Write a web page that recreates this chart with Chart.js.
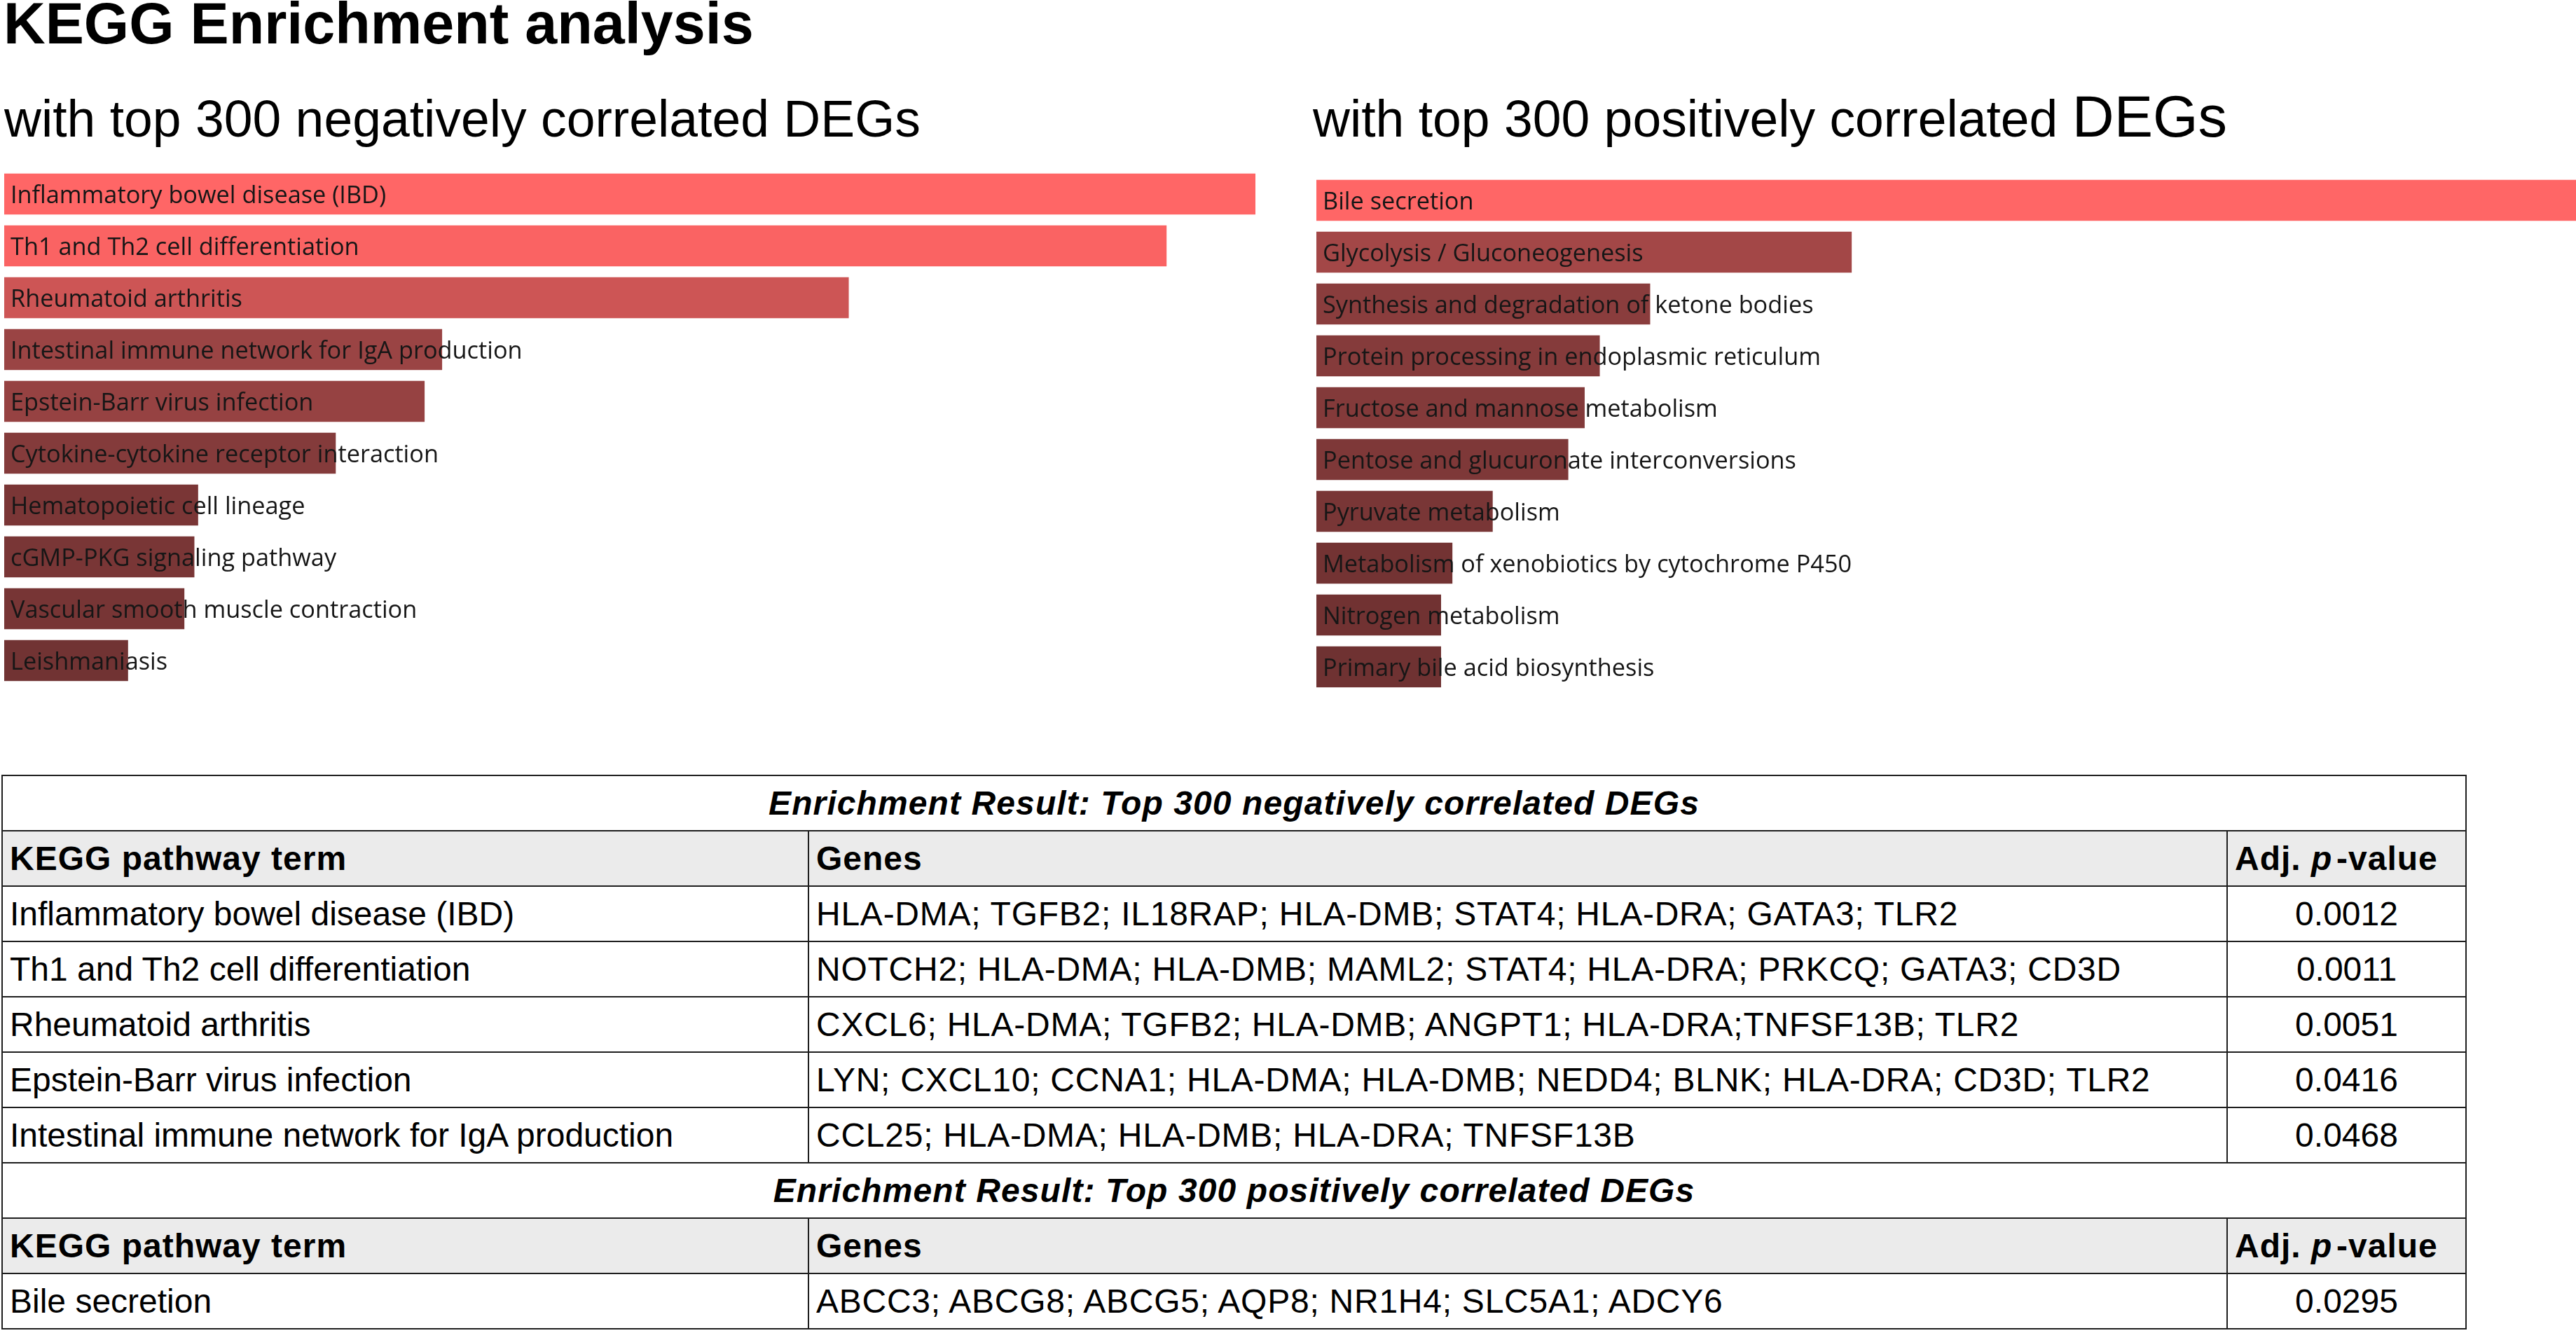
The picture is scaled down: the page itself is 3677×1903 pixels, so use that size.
<!DOCTYPE html>
<html>
<head>
<meta charset="utf-8">
<script src="https://cdn.jsdelivr.net/npm/chart.js@4.4.1/dist/chart.umd.min.js"></script>
<style>
  html, body { margin: 0; padding: 0; background: #fff; }
  body { width: 3677px; height: 1903px; position: relative; overflow: hidden; font-family: "Liberation Sans", Arial, sans-serif; color: #000; }
  .title { position: absolute; left: 5px; top: -7px; font-size: 82.7px; font-weight: bold; line-height: 82px; white-space: nowrap; }
  .sub { position: absolute; font-size: 73.3px; line-height: 73px; white-space: nowrap; }
  .sub .big { font-size: 83px; }
  .box { position: absolute; }
  table { position: absolute; left: 2px; top: 1106px; width: 3517px; border-collapse: collapse; table-layout: fixed; font-size: 48px; }
  td { border: 2.5px solid #1e1e1e; height: 77px; padding: 0 0 0 10px; white-space: nowrap; overflow: hidden; vertical-align: middle; }
  td.cap { text-align: center; font-weight: bold; font-style: italic; padding: 0; letter-spacing: 1.1px; }
  tr.head td { background: #ebebeb; font-weight: bold; letter-spacing: 1px; }
  td.genes { letter-spacing: 0.75px; }
  td.pv { text-align: center; padding: 0; }
  tr.head td.pvh { text-align: left; }
  tr.head i { margin-right: 0.12em; }
</style>
</head>
<body>
<div class="title">KEGG Enrichment analysis</div>
<div class="sub" style="left:6px; top:134px;">with top 300 negatively correlated DEGs</div>
<div class="sub" style="left:1874px; top:130px;">with top 300 positively correlated <span class="big">DEGs</span></div>

<div class="box" style="left:6px; top:240px; width:1786px; height:740px;"><canvas id="negChart"></canvas></div>
<div class="box" style="left:1879px; top:249px; width:1798px; height:740px;"><canvas id="posChart"></canvas></div>

<table id="resTable"></table>

<script>
// bar chart data (relative bar length, longest = 100)
const negTerms = [
  'Inflammatory bowel disease (IBD)',
  'Th1 and Th2 cell differentiation',
  'Rheumatoid arthritis',
  'Intestinal immune network for IgA production',
  'Epstein-Barr virus infection',
  'Cytokine-cytokine receptor interaction',
  'Hematopoietic cell lineage',
  'cGMP-PKG signaling pathway',
  'Vascular smooth muscle contraction',
  'Leishmaniasis'
];
const negScore = [100, 92.9, 67.5, 35.0, 33.6, 26.5, 15.5, 15.2, 14.4, 9.9];

const posTerms = [
  'Bile secretion',
  'Glycolysis / Gluconeogenesis',
  'Synthesis and degradation of ketone bodies',
  'Protein processing in endoplasmic reticulum',
  'Fructose and mannose metabolism',
  'Pentose and glucuronate interconversions',
  'Pyruvate metabolism',
  'Metabolism of xenobiotics by cytochrome P450',
  'Nitrogen metabolism',
  'Primary bile acid biosynthesis'
];
const posScore = [100, 42.5, 26.5, 22.5, 21.3, 20.0, 14.0, 10.8, 9.9, 9.9];

// bar colours
const negColors = ['#ff6666', '#fa6363', '#cd5555', '#9a4444', '#964242', '#843b3b', '#7a3636', '#793636', '#773535', '#713333'];
const posColors = ['#ff6666', '#a34747', '#8a3d3d', '#853b3b', '#833a3a', '#7e3838', '#793636', '#733333', '#713232', '#6f3232'];

// table data
const negTableTerms = [
  'Inflammatory bowel disease (IBD)',
  'Th1 and Th2 cell differentiation',
  'Rheumatoid arthritis',
  'Epstein-Barr virus infection',
  'Intestinal immune network for IgA production'
];
const negTableGenes = [
  'HLA-DMA; TGFB2; IL18RAP; HLA-DMB; STAT4; HLA-DRA; GATA3; TLR2',
  'NOTCH2; HLA-DMA; HLA-DMB; MAML2; STAT4; HLA-DRA; PRKCQ; GATA3; CD3D',
  'CXCL6; HLA-DMA; TGFB2; HLA-DMB; ANGPT1; HLA-DRA;TNFSF13B; TLR2',
  'LYN; CXCL10; CCNA1; HLA-DMA; HLA-DMB; NEDD4; BLNK; HLA-DRA; CD3D; TLR2',
  'CCL25; HLA-DMA; HLA-DMB; HLA-DRA; TNFSF13B'
];
const negTableP = ['0.0012', '0.0011', '0.0051', '0.0416', '0.0468'];

const posTableTerms = ['Bile secretion'];
const posTableGenes = ['ABCC3; ABCG8; ABCG5; AQP8; NR1H4; SLC5A1; ADCY6'];
const posTableP = ['0.0295'];

// labels drawn from the bar's left edge, over and past the bar
const barLabels = {
  id: 'barLabels',
  afterDatasetsDraw(chart) {
    const ctx = chart.ctx;
    const meta = chart.getDatasetMeta(0);
    const labels = chart.data.labels;
    ctx.save();
    ctx.font = '34.3px "Open Sans", sans-serif';
    ctx.fillStyle = '#161616';
    ctx.textBaseline = 'alphabetic';
    ctx.textAlign = 'left';
    meta.data.forEach((bar, i) => {
      ctx.fillText(labels[i], chart.chartArea.left + 9, bar.y + 12.5);
    });
    ctx.restore();
  }
};

function makeChart(id, labels, values, colors) {
  const ctx = document.getElementById(id).getContext('2d');
  return new Chart(ctx, {
    type: 'bar',
    data: {
      labels: labels,
      datasets: [{
        data: values,
        backgroundColor: colors,
        borderWidth: 0,
        categoryPercentage: 1,
        barPercentage: 0.79
      }]
    },
    options: {
      indexAxis: 'y',
      responsive: true,
      maintainAspectRatio: false,
      animation: false,
      layout: { padding: 0 },
      plugins: { legend: { display: false }, tooltip: { enabled: false } },
      scales: {
        x: { display: false, min: 0, max: Math.max(...values) },
        y: { display: false }
      }
    },
    plugins: [barLabels]
  });
}

makeChart('negChart', negTerms, negScore, negColors);
makeChart('posChart', posTerms, posScore, posColors);

// results table
function addSection(table, caption, terms, genes, pvals) {
  let html = '<tr><td class="cap" colspan="3">' + caption + '</td></tr>';
  html += '<tr class="head"><td>KEGG pathway term</td><td>Genes</td><td class="pvh">Adj. <i>p</i>-value</td></tr>';
  terms.forEach((t, i) => {
    html += '<tr><td>' + t + '</td><td class="genes">' + genes[i] + '</td><td class="pv">' + pvals[i] + '</td></tr>';
  });
  table.insertAdjacentHTML('beforeend', html);
}

const table = document.getElementById('resTable');
table.innerHTML = '<colgroup><col style="width:1151px"><col style="width:2025px"><col style="width:341px"></colgroup>';
addSection(table, 'Enrichment Result: Top 300 negatively correlated DEGs', negTableTerms, negTableGenes, negTableP);
addSection(table, 'Enrichment Result: Top 300 positively correlated DEGs', posTableTerms, posTableGenes, posTableP);
</script>
</body>
</html>
